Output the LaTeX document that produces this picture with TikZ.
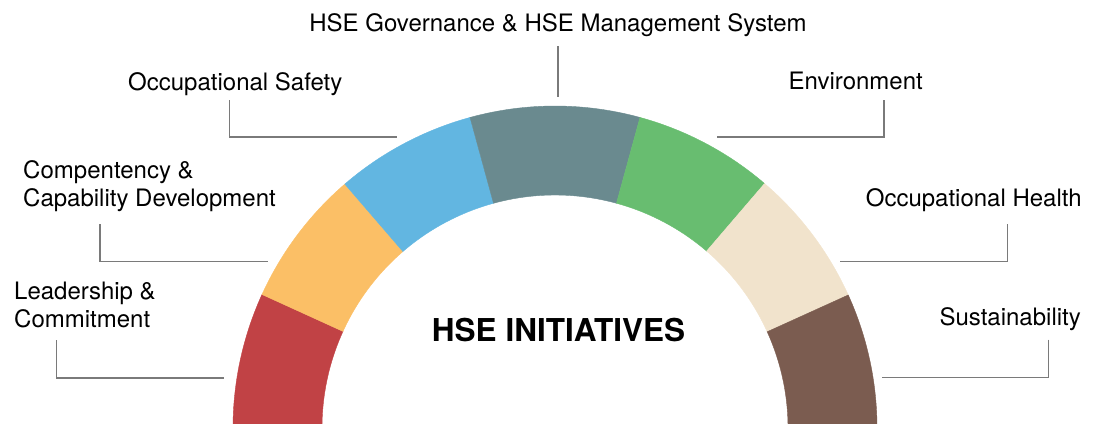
\documentclass[tikz,border=0pt]{standalone}
\usepackage{fontspec}
\setmainfont{TeX Gyre Heros}
\definecolor{cred}{HTML}{C14245}
\definecolor{corange}{HTML}{FBBF66}
\definecolor{cblue}{HTML}{62B6E1}
\definecolor{cteal}{HTML}{6A8A8F}
\definecolor{cgreen}{HTML}{68BD70}
\definecolor{cbeige}{HTML}{F1E3CC}
\definecolor{cbrown}{HTML}{7B5C50}
\definecolor{linegray}{HTML}{7A7A7A}
\newcommand\hsseg[3]{\fill[#1,draw=#1,line width=0.4pt] (#2:322) arc[start angle=#2,end angle=#3,radius=322] -- (#3:233) arc[start angle=#3,end angle=#2,radius=233] -- cycle;}
\begin{document}
\begin{tikzpicture}[x=1pt,y=-1pt,
  lbl/.style={inner sep=0pt, font=\fontsize{24}{28}\selectfont, align=left},
  conn/.style={draw=linegray, line width=1.3pt}]
\useasboundingbox (0,0) rectangle (1099,423);
\begin{scope}
\clip (0,0) rectangle (1099,423);
\begin{scope}[shift={(555,428)}]
\hsseg{cred}{-180}{-155.5}
\hsseg{corange}{-155.5}{-130.75}
\hsseg{cblue}{-130.75}{-105.3}
\hsseg{cteal}{-105.3}{-74.7}
\hsseg{cgreen}{-74.7}{-49.4}
\hsseg{cbeige}{-49.4}{-24.4}
\hsseg{cbrown}{-24.4}{0}
\end{scope}
\end{scope}
\node[lbl, anchor=base] (gov) at (558,31) {HSE Governance \& HSE Management System};
\node[lbl, anchor=base west] (saf) at (128,90) {Occupational Safety};
\node[lbl, anchor=base east] (env) at (923,89) {Environment};
\node[lbl, anchor=base west] (comp) at (23,206) {Compentency \&\\Capability Development};
\node[lbl, anchor=base east] (hea) at (1082,206) {Occupational Health};
\node[lbl, anchor=base west] (lead) at (14,327.5) {Leadership \&\\Commitment};
\node[lbl, anchor=base east] (sus) at (1081,325) {Sustainability};
\node[font=\bfseries\fontsize{31.5}{36}\selectfont, anchor=base, inner sep=0pt] (title) at (558.5,341.7) {HSE INITIATIVES};
\coordinate (g1) at (558,46); \coordinate (g2) at (558,97);
\coordinate (s1) at (229.5,100); \coordinate (s2) at (397,137);
\coordinate (e1) at (884,100); \coordinate (e2) at (716.7,137);
\coordinate (c1) at (100,224); \coordinate (c2) at (267.7,261.7);
\coordinate (h1) at (1007.3,224); \coordinate (h2) at (840,261.7);
\coordinate (l1) at (56.7,340); \coordinate (l2) at (224,378);
\coordinate (u1) at (1048.3,339.5); \coordinate (u2) at (881.7,377.5);
\draw[conn] (g1) -- (g2);
\draw[conn] (s1) |- (s2);
\draw[conn] (e1) |- (e2);
\draw[conn] (c1) |- (c2);
\draw[conn] (h1) |- (h2);
\draw[conn] (l1) |- (l2);
\draw[conn] (u1) |- (u2);
\end{tikzpicture}
\end{document}
